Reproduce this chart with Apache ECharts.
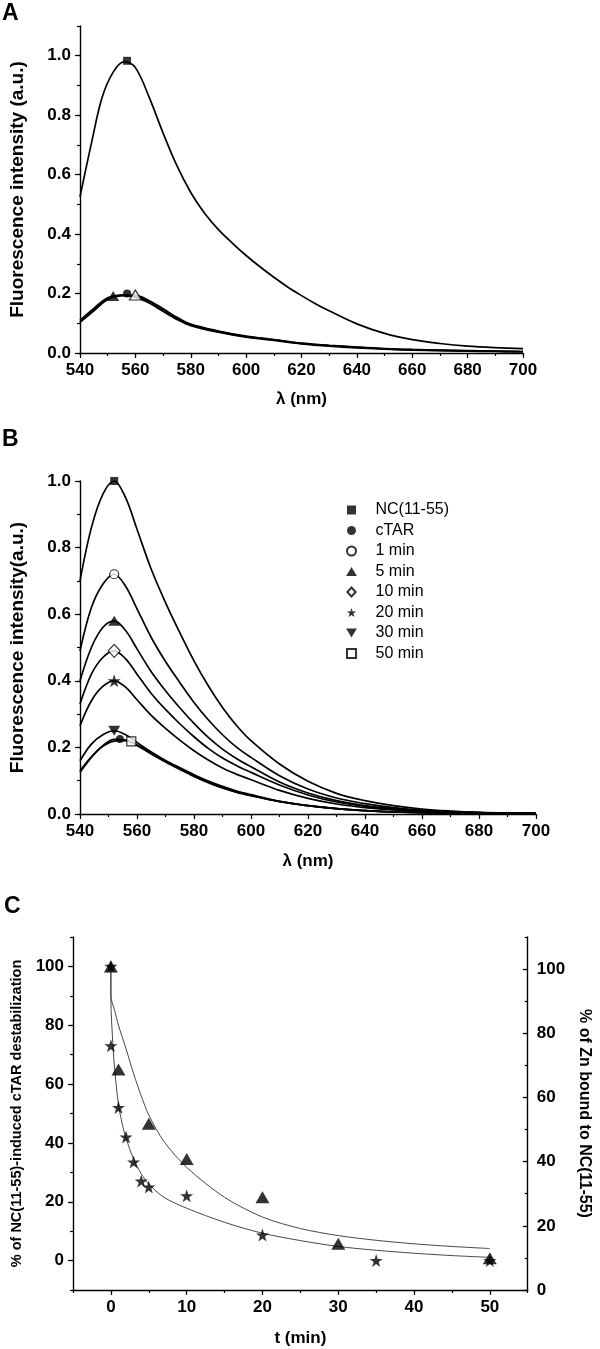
<!DOCTYPE html>
<html lang="en">
<head>
<meta charset="UTF-8">
<title>Fluorescence spectra and kinetics</title>
<style>
    html, body { margin: 0; padding: 0; background: #fff; }
    #chart { width: 600px; height: 1349px; }
</style>
</head>
<body>
<div id="chart"></div>
<script src="https://cdn.jsdelivr.net/npm/echarts@6/dist/echarts.min.js"></script>
<script>
// ---- panel A : emission spectra ----
var lambdaA = [540, 544, 548, 552, 556, 560, 565, 570, 575, 580, 585, 590, 595, 600, 605, 610, 615, 620, 625, 630, 640, 650, 660, 670, 680, 690, 700];
var ncA = [0.525, 0.70, 0.86, 0.945, 0.98, 0.96, 0.86, 0.74, 0.63, 0.54, 0.47, 0.415, 0.37, 0.328, 0.29, 0.255, 0.222, 0.193, 0.166, 0.142, 0.098, 0.066, 0.045, 0.032, 0.023, 0.018, 0.015];
var lambdaALow = [540, 545, 550, 555, 560, 565, 570, 575, 580, 590, 600, 610, 620, 630, 640, 650, 660, 670, 680, 690, 700];
var lowA1 = [0.11, 0.15, 0.186, 0.194, 0.188, 0.168, 0.14, 0.113, 0.092, 0.07, 0.053, 0.042, 0.031, 0.023, 0.017, 0.013, 0.01, 0.008, 0.006, 0.005, 0.004];
var lowA2 = [0.105, 0.145, 0.183, 0.195, 0.192, 0.173, 0.146, 0.117, 0.095, 0.072, 0.055, 0.044, 0.032, 0.025, 0.019, 0.014, 0.011, 0.009, 0.007, 0.006, 0.005];
var lowA3 = [0.103, 0.142, 0.18, 0.193, 0.194, 0.176, 0.149, 0.12, 0.097, 0.074, 0.057, 0.045, 0.033, 0.026, 0.02, 0.015, 0.012, 0.01, 0.008, 0.006, 0.005];
var markerAX = [557, 552, 557, 560];
var markerAY = [0.983, 0.192, 0.2, 0.195];

// ---- panel B : time course ----
var lambdaB = [540, 544, 548, 552, 556, 560, 565, 570, 575, 580, 585, 590, 595, 600, 610, 620, 630, 640, 650, 660, 670, 680, 690, 700];
var ncB = [0.70, 0.86, 0.96, 1.00, 0.95, 0.855, 0.735, 0.635, 0.545, 0.46, 0.385, 0.32, 0.265, 0.22, 0.15, 0.098, 0.062, 0.04, 0.025, 0.015, 0.009, 0.005, 0.003, 0.002];
var min1B = [0.49, 0.62, 0.69, 0.72, 0.684, 0.616, 0.53, 0.458, 0.395, 0.335, 0.283, 0.238, 0.2, 0.17, 0.115, 0.075, 0.048, 0.031, 0.019, 0.011, 0.007, 0.004, 0.003, 0.002];
var min5B = [0.40, 0.50, 0.56, 0.58, 0.551, 0.496, 0.427, 0.37, 0.319, 0.272, 0.23, 0.195, 0.166, 0.142, 0.096, 0.063, 0.04, 0.025, 0.016, 0.01, 0.006, 0.004, 0.002, 0.001];
var min10B = [0.33, 0.42, 0.47, 0.49, 0.466, 0.42, 0.362, 0.314, 0.271, 0.232, 0.197, 0.168, 0.145, 0.125, 0.087, 0.057, 0.036, 0.023, 0.014, 0.008, 0.005, 0.003, 0.002, 0.001];
var min20B = [0.265, 0.34, 0.383, 0.40, 0.381, 0.343, 0.296, 0.257, 0.222, 0.19, 0.162, 0.138, 0.119, 0.103, 0.071, 0.047, 0.03, 0.019, 0.012, 0.007, 0.004, 0.003, 0.002, 0.001];
var min30B = [0.16, 0.21, 0.238, 0.25, 0.238, 0.215, 0.186, 0.161, 0.139, 0.118, 0.099, 0.083, 0.069, 0.058, 0.038, 0.025, 0.016, 0.01, 0.006, 0.004, 0.002, 0.001, 0.001, 0];
var ctarB = [0.125, 0.17, 0.205, 0.224, 0.222, 0.206, 0.18, 0.156, 0.134, 0.113, 0.094, 0.078, 0.065, 0.055, 0.037, 0.025, 0.016, 0.01, 0.006, 0.004, 0.002, 0.001, 0.001, 0];
var min50B = [0.13, 0.172, 0.203, 0.219, 0.22, 0.208, 0.183, 0.159, 0.137, 0.115, 0.096, 0.079, 0.066, 0.056, 0.038, 0.025, 0.016, 0.01, 0.006, 0.004, 0.002, 0.001, 0.001, 0];
var legendB = ['NC(11-55)', 'cTAR', '1 min', '5 min', '10 min', '20 min', '30 min', '50 min'];
var markerBX = [552, 554, 552, 552, 552, 552, 552, 558];
var markerBY = [1.0, 0.225, 0.72, 0.58, 0.49, 0.40, 0.25, 0.218];

// ---- panel C : kinetics ----
var starT = [0, 0, 1, 2, 3, 4, 5, 10, 20, 35, 50];
var starV = [100, 73, 52, 42, 33.5, 27, 25, 22, 8.7, 0, 0];
var triT = [0, 1, 5, 10, 20, 30, 50];
var triV = [100, 65, 46.5, 34.5, 21.5, 5.7, 0.8];
var starFitT = [0, 0, 0.25, 0.5, 1, 1.5, 2, 3, 4, 5, 7, 10, 15, 20, 25, 30, 35, 40, 45, 50];
var starFitV = [100, 89, 74, 65, 53, 46.5, 41.5, 34.5, 29.5, 26, 21.5, 17.8, 13, 9.3, 6.8, 4.8, 3.5, 2.5, 1.7, 1.1];
var triFitT = [0, 0, 0.5, 1, 2, 3, 4, 5, 7, 10, 15, 20, 25, 30, 35, 40, 45, 50];
var triFitV = [100, 90, 85, 80, 72, 63.5, 56, 49.5, 40.5, 31.7, 21.5, 14.8, 10.9, 8.5, 6.9, 5.7, 4.8, 4.1];

// ticks / labels
var majorX = [540, 560, 580, 600, 620, 640, 660, 680, 700];
var majorY = [0, 0.2, 0.4, 0.6, 0.8, 1.0];
var majorT = [0, 10, 20, 30, 40, 50];
var majorP = [0, 20, 40, 60, 80, 100];

var FONT = 'Liberation Sans, Arial, sans-serif';
// marker shapes as paths so the legend keeps their aspect
var SQUARE = 'path://M0,0 L10,0 L10,10 L0,10 Z';
var TRI = 'path://M6,0 L12,10 L0,10 Z';
var DOWN = 'path://M0,0 L12,0 L6,10 Z';
var DIAMOND = 'path://M6,0 L12,6.5 L6,13 L0,6.5 Z';
var STAR = 'path://M12,0 L14.9,8.6 L24,8.6 L16.7,13.9 L19.4,22.6 L12,17.3 L4.6,22.6 L7.3,13.9 L0,8.6 L9.1,8.6 Z';

function zip(xs, ys) {
    var out = [];
    for (var i = 0; i < xs.length; i++) out.push([xs[i], ys[i]]);
    return out;
}

// axis that carries the line, labels and the short (minor) ticks
function mainAxis(grid, pos, min, max, step, labels, extra) {
    var ax = {
        type: 'value', gridIndex: grid, position: pos, min: min, max: max, interval: step,
        axisLine: { show: true, onZero: false, lineStyle: { color: '#000', width: 1.4 } },
        axisTick: { show: true, length: 3, lineStyle: { color: '#000', width: 1.2 } },
        axisLabel: { customValues: labels, color: '#000', fontSize: 17, fontWeight: 'bold', fontFamily: FONT, margin: 9 },
        splitLine: { show: false },
        nameTextStyle: { color: '#000', fontSize: 17, fontWeight: 'bold', fontFamily: FONT }
    };
    for (var k in extra) ax[k] = extra[k];
    return ax;
}
// overlay axis drawing only the longer major ticks
function tickAxis(grid, pos, min, max, step, majors, inside) {
    return {
        type: 'value', gridIndex: grid, position: pos, min: min, max: max, interval: step,
        axisLine: { show: false, onZero: false },
        axisTick: { show: true, inside: !!inside, length: 5, customValues: majors, lineStyle: { color: '#000', width: 1.2 } },
        axisLabel: { show: false },
        splitLine: { show: false }
    };
}

function fmt1(v) { return v.toFixed(1); }

var lineStyleAB = { color: '#000', width: 1.7 };

function specLine(xa, ya, xs, ys) {
    return {
        type: 'line', xAxisIndex: xa, yAxisIndex: ya, data: zip(xs, ys),
        showSymbol: false, smooth: 0.35,
        lineStyle: lineStyleAB, z: 2, silent: true
    };
}
function marker(name, xa, ya, x, y, symbol, size, open) {
    return {
        name: name, type: 'scatter', xAxisIndex: xa, yAxisIndex: ya,
        data: [[x, y]], symbol: symbol, symbolSize: size, z: 5,
        itemStyle: open ? { color: '#fff', borderColor: '#000', borderWidth: 1.2 } : { color: '#000' }
    };
}

var ele = document.getElementById('chart');
var chart = echarts.init(ele, null, { renderer: 'canvas' });

var options = {
    animation: false,
    backgroundColor: '#fff',
    title: [
        { text: 'A', left: 2, top: 2, padding: 0, textStyle: { fontSize: 23, fontWeight: 'bold', fontFamily: FONT, color: '#000' } },
        { text: 'B', left: 2, top: 428, padding: 0, textStyle: { fontSize: 23, fontWeight: 'bold', fontFamily: FONT, color: '#000' } },
        { text: 'C', left: 4, top: 895, padding: 0, textStyle: { fontSize: 23, fontWeight: 'bold', fontFamily: FONT, color: '#000' } }
    ],
    grid: [
        { left: 79, top: 26, width: 444, height: 327 },
        { left: 79, top: 481, width: 457, height: 333 },
        { left: 73, top: 937, width: 474, height: 353 }
    ],
    legend: {
        data: legendB, orient: 'vertical', left: 341, top: 497,
        itemWidth: 38, itemHeight: 9, itemGap: 4.5, selectedMode: false,
        textStyle: { color: '#000', fontSize: 16, fontFamily: FONT }
    },
    xAxis: [
        mainAxis(0, 'bottom', 540, 700, 10, majorX, { name: 'λ (nm)', nameLocation: 'middle', nameGap: 38 }),
        tickAxis(0, 'bottom', 540, 700, 10, majorX),
        mainAxis(1, 'bottom', 540, 700, 10, majorX, { name: 'λ (nm)', nameLocation: 'middle', nameGap: 39 }),
        tickAxis(1, 'bottom', 540, 700, 10, majorX),
        mainAxis(2, 'bottom', -5, 55, 5, majorT, { name: 't (min)', nameLocation: 'middle', nameGap: 40 }),
        tickAxis(2, 'bottom', -5, 55, 5, majorT)
    ],
    yAxis: [
        mainAxis(0, 'left', 0, 1.1, 0.1, majorY, { name: 'Fluorescence intensity (a.u.)', nameLocation: 'middle', nameGap: 53 }),
        tickAxis(0, 'left', 0, 1.1, 0.1, majorY),
        mainAxis(1, 'left', 0, 1.0, 0.1, majorY, { name: 'Fluorescence intensity(a.u.)', nameLocation: 'middle', nameGap: 53 }),
        tickAxis(1, 'left', 0, 1.0, 0.1, majorY),
        mainAxis(2, 'left', -10, 110, 10, majorP, { name: '% of NC(11-55)-induced cTAR destabilization', nameLocation: 'middle', nameGap: 49 }),
        tickAxis(2, 'left', -10, 110, 10, majorP),
        mainAxis(2, 'right', 0, 110, 10, majorP, { name: '% of Zn bound to NC(11-55)', nameLocation: 'middle', nameGap: 37, nameRotate: -90 }),
        tickAxis(2, 'right', 0, 110, 10, majorP, true)
    ],
    series: []
};

// y label format for spectra, title sizes
options.yAxis[0].axisLabel.formatter = fmt1;
options.yAxis[2].axisLabel.formatter = fmt1;
options.yAxis[0].nameTextStyle.fontSize = 19;
options.yAxis[2].nameTextStyle.fontSize = 19;
options.yAxis[4].nameTextStyle.fontSize = 14.5;
options.yAxis[6].nameTextStyle.fontSize = 16;
// right axis of C: ticks point into the plot
options.yAxis[6].axisTick.inside = true;

// panel A
options.series.push(specLine(0, 0, lambdaA, ncA));
options.series.push(specLine(0, 0, lambdaALow, lowA1));
options.series.push(specLine(0, 0, lambdaALow, lowA2));
options.series.push(specLine(0, 0, lambdaALow, lowA3));
options.series.push(marker('A-NC', 0, 0, markerAX[0], markerAY[0], SQUARE, 8, false));
options.series.push(marker('A-tri', 0, 0, markerAX[1], markerAY[1], TRI, [12, 10], false));
options.series.push(marker('A-circ', 0, 0, markerAX[2], markerAY[2], 'circle', 8, false));
options.series.push(marker('A-open', 0, 0, markerAX[3], markerAY[3], TRI, [12, 10], true));

// panel B
[ncB, min1B, min5B, min10B, min20B, min30B, ctarB, min50B].forEach(function (ys) {
    options.series.push(specLine(2, 2, lambdaB, ys));
});
options.series.push(marker(legendB[0], 2, 2, markerBX[0], markerBY[0], SQUARE, 8, false));
options.series.push(marker(legendB[1], 2, 2, markerBX[1], markerBY[1], 'circle', 8, false));
options.series.push(marker(legendB[2], 2, 2, markerBX[2], markerBY[2], 'circle', 9, true));
options.series.push(marker(legendB[3], 2, 2, markerBX[3], markerBY[3], TRI, [12, 10], false));
options.series.push(marker(legendB[4], 2, 2, markerBX[4], markerBY[4], DIAMOND, [12, 13], true));
options.series.push(marker(legendB[5], 2, 2, markerBX[5], markerBY[5], STAR, 13, false));
options.series.push(marker(legendB[6], 2, 2, markerBX[6], markerBY[6], DOWN, [12, 10], false));
options.series.push(marker(legendB[7], 2, 2, markerBX[7], markerBY[7], SQUARE, 9, true));

// panel C
[[starFitT, starFitV], [triFitT, triFitV]].forEach(function (f) {
    options.series.push({
        type: 'line', xAxisIndex: 4, yAxisIndex: 4, data: zip(f[0], f[1]),
        showSymbol: false, smooth: 0.3, z: 2, silent: true,
        lineStyle: { color: '#333', width: 0.9 }
    });
});
options.series.push({
    name: 'C-stars', type: 'scatter', xAxisIndex: 4, yAxisIndex: 4, data: zip(starT, starV),
    symbol: STAR, symbolSize: 13, itemStyle: { color: '#000' }, z: 5
});
options.series.push({
    name: 'C-triangles', type: 'scatter', xAxisIndex: 4, yAxisIndex: 4, data: zip(triT, triV),
    symbol: TRI, symbolSize: [14, 12], itemStyle: { color: '#000' }, z: 5
});

chart.setOption(options);
</script>
</body>
</html>
